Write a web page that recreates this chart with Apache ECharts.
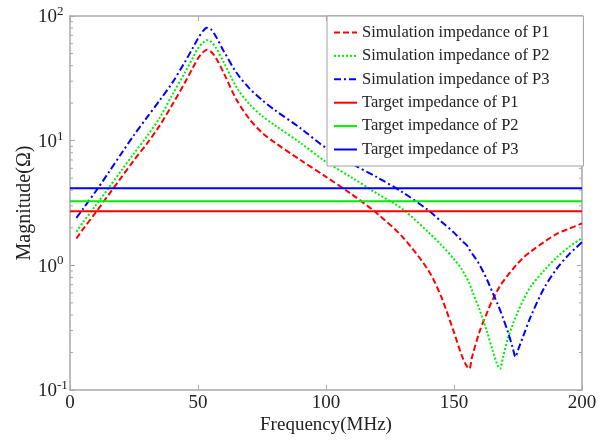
<!DOCTYPE html>
<html>
<head>
<meta charset="utf-8">
<script src="https://cdn.jsdelivr.net/npm/echarts@6/dist/echarts.min.js"></script>
<style>
  html, body { margin: 0; padding: 0; background: #fff; }
  #chart { width: 615px; height: 441px; }
</style>
</head>
<body>
<div id="chart"></div>
<script>
// Frequency grid (MHz)
var freq = [2.5, 5, 10, 15, 20, 25, 30, 35, 40, 45,
            48, 50, 52, 53.5, 55, 57, 60, 65, 70, 75,
            80, 90, 100, 110, 120, 130, 140, 145, 150, 153,
            155, 156, 157, 160, 163, 165, 167, 168, 169, 171,
            173, 174, 175, 177, 180, 185, 190, 195, 200];

// Simulation impedance magnitudes (Ohm)
var simP1 = [1.64, 1.94, 2.65, 3.66, 5.06, 6.97, 9.44, 13.2, 19.5, 29.5,
             38.5, 45.7, 51.3, 53.7, 51.9, 46.2, 35.1, 21.4, 15.0, 11.6,
             9.66, 7.0, 5.13, 3.72, 2.6, 1.68, 0.91, 0.56, 0.29, 0.19,
             0.155, 0.148, 0.182, 0.295, 0.422, 0.525, 0.631, 0.684, 0.733, 0.832,
             0.933, 0.989, 1.04, 1.15, 1.29, 1.53, 1.78, 1.97, 2.17];
var simP2 = [1.86, 2.2, 3.02, 4.15, 5.74, 7.91, 10.8, 15.2, 23.4, 35.5,
             46.2, 55, 61.2, 64, 62.4, 55.6, 42.7, 26.9, 19.7, 15.8,
             13.3, 9.6, 6.76, 5.07, 3.76, 2.82, 1.84, 1.46, 1.12, 0.93,
             0.79, 0.72, 0.63, 0.44, 0.29, 0.21, 0.158, 0.148, 0.178, 0.257,
             0.339, 0.38, 0.427, 0.525, 0.676, 0.9, 1.15, 1.41, 1.65];
var simP3 = [2.4, 2.82, 3.91, 5.52, 7.85, 11.1, 15.3, 21.0, 29.2, 43.2,
             55.6, 66.1, 75.9, 80.4, 78.5, 68.4, 52.5, 35.2, 26.4, 21.2,
             17.6, 12.6, 8.73, 6.55, 5.08, 3.85, 2.76, 2.25, 1.83, 1.58,
             1.45, 1.34, 1.25, 1.01, 0.759, 0.61, 0.49, 0.437, 0.385, 0.295,
             0.216, 0.184, 0.209, 0.269, 0.389, 0.646, 0.933, 1.23, 1.53];

// Target impedances (Ohm)
var targetFreq = [0, 200];
var targetP1 = 2.72;
var targetP2 = 3.27;
var targetP3 = 4.16;

// Axis ticks
var xTicks = [0, 50, 100, 150, 200];
var yTickExps = [-1, 0, 1, 2];
var yMinorTicks = [0.2, 0.3, 0.4, 0.5, 0.6, 0.7, 0.8, 0.9,
                   2, 3, 4, 5, 6, 7, 8, 9,
                   20, 30, 40, 50, 60, 70, 80, 90];

var names = ['Simulation impedance of P1', 'Simulation impedance of P2', 'Simulation impedance of P3',
             'Target impedance of P1', 'Target impedance of P2', 'Target impedance of P3'];

function pairs(xs, ys) { return xs.map(function (x, i) { return [x, ys[i]]; }); }
function flat(v) { return targetFreq.map(function (x) { return [x, v]; }); }

var FONT = 'Liberation Serif';
var AX = '#a8a8a8';
var TXT = '#222';
var RED = '#ff0000', GREEN = '#00ee00', BLUE = '#0000ff';

var chart = echarts.init(document.getElementById('chart'), null, { renderer: 'canvas' });

var axisCommon = {
  axisLine: { show: true, onZero: false, lineStyle: { color: AX, width: 1.5 } },
  axisTick: { show: true, inside: true, length: 5, lineStyle: { color: AX, width: 1 } },
  splitLine: { show: false }
};

function simSeries(name, data, color, dash) {
  return { name: name, type: 'line', data: data, symbol: 'none', showSymbol: false, smooth: 0.3,
    lineStyle: { color: color, width: 2, type: dash }, itemStyle: { color: color } };
}
function targetSeries(name, v, color) {
  return { name: name, type: 'line', data: flat(v), symbol: 'none', showSymbol: false,
    lineStyle: { color: color, width: 2 }, itemStyle: { color: color } };
}

var option = {
  animation: false,
  backgroundColor: '#fff',
  grid: { left: 70, right: 33, top: 16, bottom: 51, containLabel: false },
  xAxis: [
    Object.assign({}, axisCommon, {
      type: 'value', min: 0, max: 200, interval: 50, position: 'bottom',
      name: 'Frequency(MHz)', nameLocation: 'middle', nameGap: 26, nameMoveOverlap: false,
      nameTextStyle: { fontFamily: FONT, fontSize: 19, color: TXT },
      axisLabel: { margin: 4, fontFamily: FONT, fontSize: 19, color: TXT,
        formatter: function (v) { return xTicks.indexOf(v) >= 0 ? String(v) : ''; } }
    }),
    Object.assign({}, axisCommon, {
      type: 'value', min: 0, max: 200, interval: 50, position: 'top',
      axisLabel: { show: false }
    })
  ],
  yAxis: [
    Object.assign({}, axisCommon, {
      type: 'log', logBase: 10, min: 0.1, max: 100, position: 'left',
      name: 'Magnitude(Ω)', nameLocation: 'middle', nameGap: 35, nameRotate: 90, nameMoveOverlap: false,
      nameTextStyle: { fontFamily: FONT, fontSize: 20, color: TXT },
      axisLabel: {
        margin: 32, align: 'left', color: TXT,
        formatter: function (v) {
          var e = Math.round(Math.log10(v));
          if (yTickExps.indexOf(e) < 0) return '';
          return '{b|10}{s|' + e + '}';
        },
        rich: {
          b: { fontFamily: FONT, fontSize: 19, color: TXT, lineHeight: 22, verticalAlign: 'bottom' },
          s: { fontFamily: FONT, fontSize: 13, color: TXT, lineHeight: 22, verticalAlign: 'top' }
        }
      }
    }),
    Object.assign({}, axisCommon, {
      type: 'log', logBase: 10, min: 0.1, max: 100, position: 'right',
      axisLabel: { show: false }
    })
  ],
  legend: {
    data: names,
    orient: 'vertical',
    left: 327, top: 16,
    padding: [8, 34, 8, 6],
    itemWidth: 23, itemHeight: 14, itemGap: 6.4,
    itemStyle: { opacity: 0 },
    backgroundColor: '#fff',
    borderColor: '#a0a0a0', borderWidth: 1, borderRadius: 0,
    textStyle: { fontFamily: FONT, fontSize: 16.5, color: TXT, lineHeight: 14 },
    z: 10
  },
  series: [
    simSeries(names[0], pairs(freq, simP1), RED, [6, 3]),
    simSeries(names[1], pairs(freq, simP2), GREEN, [2, 2]),
    simSeries(names[2], pairs(freq, simP3), BLUE, [7, 3, 2, 3]),
    targetSeries(names[3], targetP1, RED),
    targetSeries(names[4], targetP2, GREEN),
    targetSeries(names[5], targetP3, BLUE),
    { name: 'minorTicks', type: 'custom', silent: true, clip: false,
      data: yMinorTicks.map(function (v) { return [0, v]; }),
      renderItem: function (params, api) {
        var y = api.coord([0, api.value(1)])[1];
        var cs = params.coordSys;
        return { type: 'group', children: [
          { type: 'line', shape: { x1: cs.x, y1: y, x2: cs.x + 3, y2: y }, style: { stroke: AX, lineWidth: 1 } },
          { type: 'line', shape: { x1: cs.x + cs.width - 3, y1: y, x2: cs.x + cs.width, y2: y }, style: { stroke: AX, lineWidth: 1 } }
        ] };
      } }
  ]
};

chart.setOption(option);
</script>
</body>
</html>
